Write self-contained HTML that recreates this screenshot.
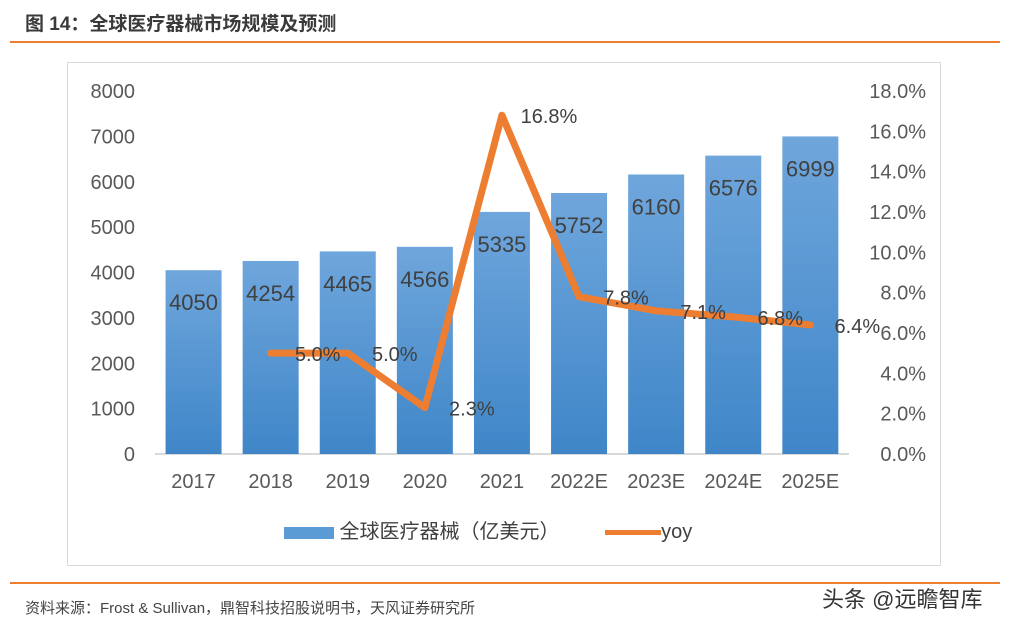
<!DOCTYPE html>
<html><head><meta charset="utf-8"><style>
body{margin:0;width:1030px;height:624px;background:#fff;font-family:"Liberation Sans","Noto Sans CJK SC",sans-serif;position:relative;overflow:hidden}
.t{position:absolute}
</style></head><body>
<div class="t" style="left:25px;top:9px;font-size:19px;font-weight:bold;color:#3a3a3a">图 14：全球医疗器械市场规模及预测</div>
<div class="t" style="left:10px;top:41px;width:990px;height:2px;background:#ed7d31"></div>
<div class="t" style="left:67px;top:62px;width:872px;height:502px;border:1px solid #d9d9d9"></div>
<svg class="t" style="left:0;top:0" width="1030" height="624">
<defs><linearGradient id="g" x1="0" y1="0" x2="0" y2="1"><stop offset="0" stop-color="#6fa6dc"/><stop offset="1" stop-color="#3f86c8"/></linearGradient></defs>
<g id="axes"></g><g id="bars"></g><g id="line"></g><g id="labels"></g>
</svg>
<div class="t" style="left:284px;top:515px;font-size:20px;color:#404040">
<span style="display:inline-block;width:50px;height:12px;background:#5b9bd5;vertical-align:middle"></span> 全球医疗器械（亿美元）
<span style="display:inline-block;width:56px;height:5px;background:#ed7d31;vertical-align:middle;margin-left:40px"></span>yoy</div>
<div class="t" style="left:10px;top:582px;width:990px;height:2px;background:#ed7d31"></div>
<div class="t" style="left:25px;top:597px;font-size:15px;color:#444">资料来源：Frost &amp; Sullivan，鼎智科技招股说明书，天风证券研究所</div>
<div class="t" style="left:822px;top:582px;font-size:22px;color:#333">头条 @远瞻智库</div>
<script>
const categories=["2017","2018","2019","2020","2021","2022E","2023E","2024E","2025E"];
const marketValues=[4050,4254,4465,4566,5335,5752,6160,6576,6999];
const yoyValues=[null,5.0,5.0,2.3,16.8,7.8,7.1,6.8,6.4];
const leftTicks=[0,1000,2000,3000,4000,5000,6000,7000,8000];
const rightTicks=[0,2,4,6,8,10,12,14,16,18];
const NS="http://www.w3.org/2000/svg";
const x0=155,step=77.1,baseY=454,topY=91;
const xc=i=>x0+step*(i+0.5);
const yL=v=>baseY-(v/8000)*(baseY-topY);
const yR=v=>baseY-(v/18)*(baseY-topY);
function mk(tag,attrs,parent,text){const e=document.createElementNS(NS,tag);for(const k in attrs)e.setAttribute(k,attrs[k]);if(text!==undefined)e.textContent=text;document.getElementById(parent).appendChild(e);return e;}
const ax=mk("line",{x1:x0,x2:x0+step*9,y1:baseY,y2:baseY,stroke:"#d9d9d9","stroke-width":2},"axes");


leftTicks.forEach(v=>{const t=mk("text",{x:135,y:yL(v)+7,"text-anchor":"end","font-size":20,fill:"#595959"},"axes",String(v));

});
rightTicks.forEach(v=>{const t=mk("text",{x:926,y:yR(v)+7,"text-anchor":"end","font-size":20,fill:"#595959"},"axes",v.toFixed(1)+"%");

});
categories.forEach((c,i)=>{const t=mk("text",{x:xc(i),y:488,"text-anchor":"middle","font-size":20,fill:"#595959"},"axes",c);

});
marketValues.forEach((v,i)=>{const b=mk("rect",{x:xc(i)-28,y:yL(v),width:56,height:baseY-yL(v),fill:"url(#g)"},"bars");


const t=mk("text",{x:xc(i),y:yL(v)+40,"text-anchor":"middle","font-size":22,fill:"#404040"},"labels",String(v));

});
const pts=[];yoyValues.forEach((v,i)=>{if(v!==null)pts.push([xc(i),yR(v),v]);});
const pl=mk("polyline",{points:pts.map(p=>p[0]+","+p[1]).join(" "),fill:"none",stroke:"#ed7d31","stroke-width":7,"stroke-linejoin":"round","stroke-linecap":"round"},"line");


pts.forEach(p=>{const t=mk("text",{x:p[0]+47,y:p[1]+8,"text-anchor":"middle","font-size":20,fill:"#404040"},"labels",p[2].toFixed(1)+"%");

});
</script>
</body></html>
